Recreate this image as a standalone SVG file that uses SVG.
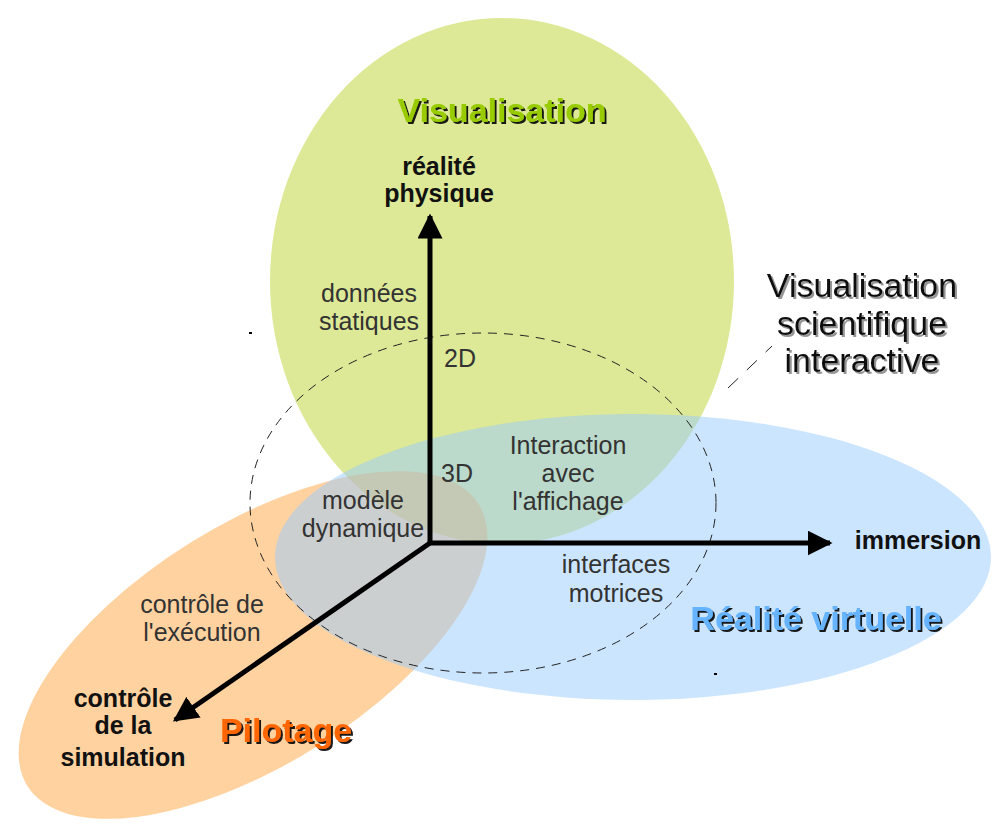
<svg xmlns="http://www.w3.org/2000/svg" width="993" height="824" viewBox="0 0 993 824">
<defs>
<marker id="ah" viewBox="0 0 10 10" refX="9" refY="5" markerWidth="5" markerHeight="5" orient="auto" markerUnits="strokeWidth"><path d="M0,0 L10,5 L0,10 z" fill="#000"/></marker>
<filter id="shd" x="-10%" y="-20%" width="120%" height="150%"><feDropShadow dx="2" dy="2" stdDeviation="0.6" flood-color="#111" flood-opacity="0.95"/></filter>
<filter id="shg" x="-10%" y="-20%" width="120%" height="150%"><feDropShadow dx="2" dy="2" stdDeviation="0.6" flood-color="#888" flood-opacity="0.9"/></filter>
<style>
.lbl{font-family:"Liberation Sans",Arial,sans-serif;font-size:25px;fill:#333;text-anchor:middle}
.b{font-weight:bold;fill:#111}
.big{font-family:"Liberation Sans",Arial,sans-serif;font-size:34px;font-weight:bold;text-anchor:middle;filter:url(#shd)}
.axis{stroke:#000;stroke-width:5;fill:none;marker-end:url(#ah)}
</style>
</defs>
<rect width="993" height="824" fill="#fff"/>
<g id="visualisation">
<ellipse cx="502" cy="281" rx="232" ry="263" fill="#dde996"/>
</g>
<g id="pilotage">
<ellipse cx="253" cy="645" rx="266" ry="120" transform="rotate(-32 253 645)" fill="#ffa541" fill-opacity="0.5"/>
</g>
<g id="realite-virtuelle">
<ellipse cx="633" cy="557" rx="358" ry="143" fill="#99ccff" fill-opacity="0.5"/>
</g>
<g id="vsi">
<ellipse cx="483" cy="503" rx="233" ry="170" fill="none" stroke="#222" stroke-width="1" stroke-dasharray="9,7"/>
<line x1="728" y1="388" x2="772" y2="346" stroke="#222" stroke-width="1" stroke-dasharray="14,12"/>
<rect x="249" y="332" width="3" height="2" fill="#000"/>
<rect x="714" y="673" width="3" height="2" fill="#000"/>
</g>
<g id="connectors">
<line class="axis" x1="430" y1="543" x2="430" y2="216"/>
<line class="axis" x1="430" y1="543" x2="830" y2="543"/>
<line class="axis" x1="430" y1="543" x2="175" y2="720"/>
</g>
<g id="titles">
<text class="big" x="502" y="122" fill="#99cc00">Visualisation</text>
<text class="big" x="286" y="742" fill="#ff6600">Pilotage</text>
<text class="big" x="816" y="630" fill="#66b3ff">Réalité virtuelle</text>
<g font-family="Liberation Sans,Arial,sans-serif" font-size="34" text-anchor="middle" fill="#111" filter="url(#shg)">
<text x="862" y="297">Visualisation</text>
<text x="862" y="335">scientifique</text>
<text x="862" y="372">interactive</text>
</g>
</g>
<g id="labels">
<text class="lbl b" x="439" y="175">réalité</text>
<text class="lbl b" x="439" y="202">physique</text>
<text class="lbl" x="369" y="302">données</text>
<text class="lbl" x="369" y="330">statiques</text>
<text class="lbl" x="460" y="367">2D</text>
<text class="lbl" x="457" y="482">3D</text>
<text class="lbl" x="568" y="454">Interaction</text>
<text class="lbl" x="568" y="482">avec</text>
<text class="lbl" x="568" y="510">l'affichage</text>
<text class="lbl" x="363" y="509">modèle</text>
<text class="lbl" x="363" y="537">dynamique</text>
<text class="lbl b" x="918" y="549">immersion</text>
<text class="lbl" x="616" y="573">interfaces</text>
<text class="lbl" x="616" y="602">motrices</text>
<text class="lbl" x="202" y="613">contrôle de</text>
<text class="lbl" x="202" y="641">l'exécution</text>
<text class="lbl b" x="123" y="707">contrôle</text>
<text class="lbl b" x="123" y="734">de la</text>
<text class="lbl b" x="123" y="766">simulation</text>
</g>
</svg>
